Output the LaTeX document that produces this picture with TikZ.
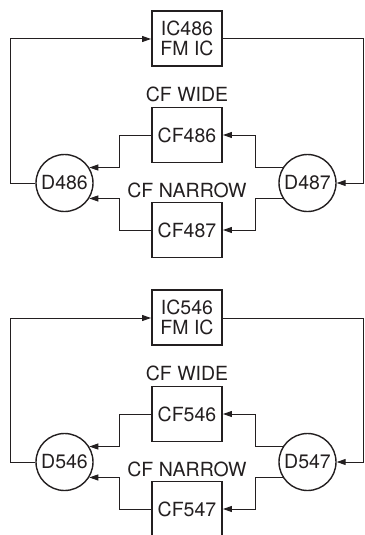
\documentclass[tikz,border=0pt]{standalone}
\usepackage{fontspec}
\setmainfont{TeX Gyre Heros}
\usepackage{tikz}
\usetikzlibrary{arrows.meta,calc}
\definecolor{ink}{HTML}{231F20}
\tikzset{
  box/.style={draw=ink, line width=1.9pt, minimum width=70pt, minimum height=55pt,
    inner sep=0pt, align=center, text=ink, font=\fontsize{19.5}{19.5}\selectfont},
  diode/.style={circle, draw=ink, line width=1.4pt, minimum size=57pt, inner sep=0pt,
    text=ink, font=\fontsize{19.5}{19.5}\selectfont},
  conn/.style={draw=ink, line width=1pt},
  arr/.style={conn, -{Triangle[length=9pt,width=6pt]}},
  lab/.style={text=ink, font=\fontsize{19.5}{19.5}\selectfont}
}

\begin{document}
\begin{tikzpicture}[x=1pt,y=-1pt]
  \useasboundingbox (0,0) rectangle (364,535);
  \clip (0,0) rectangle (364,535);

  \foreach \oy/\n in {0/486, 279/546} {
    \pgfmathtruncatemacro\m{\n+1}
    \node[box] (ic\n) at (187,38.5+\oy) {IC\n\\FM IC};
    \node[box] (cfw\n) at (187,135+\oy) {CF\n};
    \node[box] (cfn\n) at (187,230+\oy) {CF\m};
    \node[diode] (da\n) at (64.5,183+\oy) {D\n};
    \node[diode] (db\n) at (307.5,183+\oy) {D\m};
    \node[lab] (wide\n) at (187,94+\oy) {CF WIDE};
    \node[lab] (narrow\n) at (187,190+\oy) {CF NARROW};

    % loop through the FM IC
    \draw[arr] (da\n.west) -| (10,39+\oy) -- (ic\n.west |- 0,39+\oy);
    \draw[arr] (ic\n.east |- 0,39+\oy) -| (363,183+\oy) -- (db\n.east);

    % wide filter path
    \draw[arr] (db\n.148) -| ($(cfw\n.east)+(33,0)$) -- (cfw\n.east);
    \draw[arr] (cfw\n.west) -| ($(da\n.32)+(30,0)$) -- (da\n.32);
    % narrow filter path
    \draw[arr] (db\n.212) -| ($(cfn\n.east)+(33,0)$) -- (cfn\n.east);
    \draw[arr] (cfn\n.west) -| ($(da\n.328)+(30,0)$) -- (da\n.328);
  }
\end{tikzpicture}
\end{document}
